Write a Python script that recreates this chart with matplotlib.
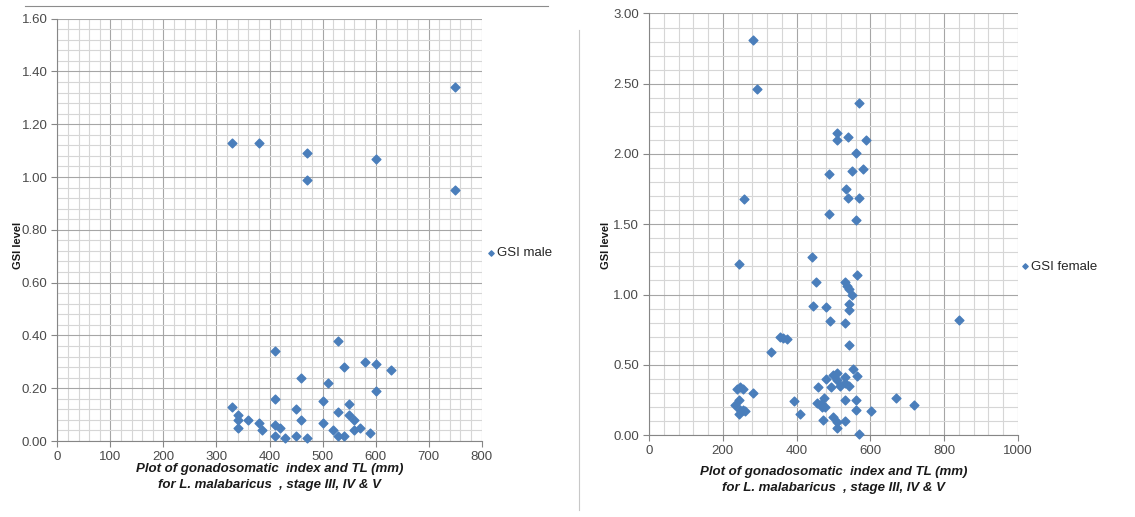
import matplotlib
matplotlib.use("Agg")
import matplotlib.pyplot as plt
from matplotlib.ticker import MultipleLocator, FormatStrFormatter
from matplotlib.lines import Line2D

# ---------------- data ----------------
male_tl = [330, 380, 470, 470, 600, 750, 750,
           410, 530, 580, 600, 630, 540, 460, 510, 600, 410, 500, 550, 330,
           450, 530, 340, 550, 460, 560, 340, 360, 380, 500, 410, 420, 340,
           385, 520, 560, 570, 410, 430, 450, 470, 530, 540, 590]
male_gsi = [1.13, 1.13, 1.09, 0.99, 1.07, 1.34, 0.95,
            0.34, 0.38, 0.30, 0.29, 0.27, 0.28, 0.24, 0.22, 0.19, 0.16, 0.15, 0.14, 0.13,
            0.12, 0.11, 0.10, 0.10, 0.08, 0.08, 0.08, 0.08, 0.07, 0.07, 0.06, 0.05, 0.05,
            0.04, 0.04, 0.04, 0.05, 0.02, 0.01, 0.02, 0.01, 0.02, 0.02, 0.03]

female_tl = [281, 292, 570, 509, 509, 540, 589, 561, 549, 580, 489, 534, 540, 568,
             257, 489, 561, 441, 245,
             563, 452, 530, 536, 543, 550, 445, 481, 542, 542, 490, 530, 840,
             355, 364, 373, 332, 542,
             552, 563, 509, 500, 531, 510, 481, 492, 530, 518, 542, 459, 239,
             247, 254, 281, 245, 393, 474, 465, 468, 478, 454, 531, 561, 669,
             718, 233, 246, 255, 259, 245, 409, 561, 601, 472, 500, 509, 531,
             509, 570]
female_gsi = [2.81, 2.46, 2.36, 2.15, 2.10, 2.12, 2.10, 2.01, 1.88, 1.89, 1.86, 1.75, 1.69, 1.69,
              1.68, 1.57, 1.53, 1.27, 1.22,
              1.14, 1.09, 1.09, 1.06, 1.04, 1.00, 0.92, 0.91, 0.93, 0.89, 0.81, 0.80, 0.82,
              0.70, 0.69, 0.68, 0.59, 0.64,
              0.47, 0.42, 0.44, 0.43, 0.415, 0.39, 0.40, 0.34, 0.37, 0.35, 0.35, 0.34, 0.325,
              0.34, 0.325, 0.30, 0.25, 0.24, 0.26, 0.22, 0.20, 0.20, 0.23, 0.25, 0.25, 0.26,
              0.21, 0.21, 0.18, 0.18, 0.17, 0.15, 0.15, 0.18, 0.17, 0.11, 0.13, 0.09, 0.10,
              0.05, 0.01]

xlabel_text = "Plot of gonadosomatic  index and TL (mm)\nfor L. malabaricus  , stage III, IV & V"
ylabel_text = "GSI level"

# ---------------- style ----------------
plt.rcParams['font.family'] = ['Liberation Sans', 'DejaVu Sans']
MARK = '#4A7EBB'

fig = plt.figure(figsize=(11.35, 5.17), dpi=100)
ax1 = fig.add_axes([0.0506, 0.147, 0.3737, 0.817])
ax2 = fig.add_axes([0.5718, 0.1586, 0.3251, 0.8153])


def style(ax, xmax, xmaj, xmin, ymax, ymaj, ymin):
    ax.set_xlim(0, xmax)
    ax.set_ylim(0, ymax)
    ax.xaxis.set_major_locator(MultipleLocator(xmaj))
    ax.xaxis.set_minor_locator(MultipleLocator(xmin))
    ax.yaxis.set_major_locator(MultipleLocator(ymaj))
    ax.yaxis.set_minor_locator(MultipleLocator(ymin))
    ax.yaxis.set_major_formatter(FormatStrFormatter('%.2f'))
    ax.grid(which='major', color='#a6a6a6', lw=0.8)
    ax.grid(which='minor', color='#d6d6d6', lw=0.8)
    ax.set_axisbelow(True)
    for s in ['top', 'right']:
        ax.spines[s].set_visible(False)
    for s in ['left', 'bottom']:
        ax.spines[s].set_color('#868686')
    ax.tick_params(which='major', direction='out', length=4, color='#868686',
                   labelsize=9.5, labelcolor='#4a4a4a', pad=3)
    ax.tick_params(which='minor', length=0)


style(ax1, 800, 100, 20, 1.6, 0.2, 0.04)
style(ax2, 1000, 200, 40, 3.0, 0.5, 0.1)

ax1.scatter(male_tl, male_gsi, marker='D', s=20, color=MARK, zorder=3,
            clip_on=False, label='GSI male')
ax2.scatter(female_tl, female_gsi, marker='D', s=20, color=MARK, zorder=3,
            clip_on=False, label='GSI female')

for ax, anchor in [(ax1, (1.012, 0.445)), (ax2, (1.007, 0.399))]:
    ax.legend(loc='center left', bbox_to_anchor=anchor, frameon=False,
              handletextpad=0.1, handlelength=0.7, borderpad=0, borderaxespad=0,
              fontsize=9.5, labelcolor='#262626', scatterpoints=1, markerscale=0.6)

for ax in (ax1, ax2):
    ax.set_xlabel(xlabel_text, fontsize=9.5, fontweight='bold', fontstyle='italic',
                  color='#1a1a1a', linespacing=1.45)
    ax.set_ylabel(ylabel_text, fontsize=8, fontweight='bold', color='#1a1a1a')

ax1.xaxis.labelpad = 0.5
ax2.xaxis.labelpad = 6.5
ax1.yaxis.set_label_coords(-0.082, 0.464)
ax2.yaxis.set_label_coords(-0.104, 0.45)

# decorative separators
fig.add_artist(Line2D([25 / 1135, 548 / 1135], [1 - 5.5 / 517, 1 - 5.5 / 517],
                      color='#8c8c8c', lw=0.8, transform=fig.transFigure))
fig.add_artist(Line2D([579 / 1135, 579 / 1135], [1 - 30 / 517, 1 - 510 / 517],
                      color='#c8c8c8', lw=0.8, transform=fig.transFigure))

fig.savefig('out.png', dpi=100, facecolor='white')
